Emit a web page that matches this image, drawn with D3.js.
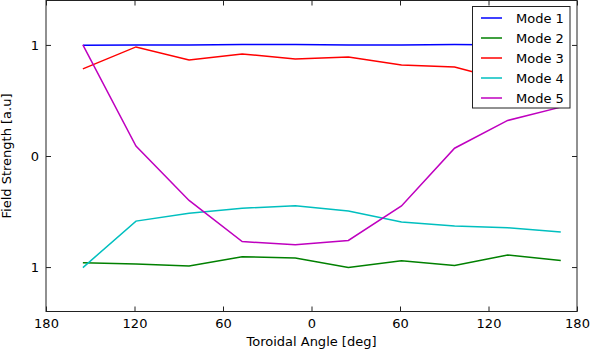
<!DOCTYPE html>
<html>
<head>
<meta charset="utf-8">
<script src="https://cdn.jsdelivr.net/npm/d3@7"></script>
<style>
  body { margin: 0; background: #fff; }
  text { font-family: "DejaVu Sans", sans-serif; }
</style>
</head>
<body>
<div id="chart"></div>
<script>
"use strict";
// toroidal angles of the probes, deg
const angles = [-155, -119, -83, -47, -11, 25, 61, 97, 133, 169];
const modeNames = ["Mode 1", "Mode 2", "Mode 3", "Mode 4", "Mode 5"];
const mode1 = [0.997, 1.0, 1.0, 1.003, 1.003, 1.0, 1.0, 1.003, 1.0, 1.0];
const mode2 = [-0.961, -0.973, -0.991, -0.907, -0.919, -1.003, -0.943, -0.985, -0.892, -0.94];
const mode3 = [0.784, 0.982, 0.865, 0.919, 0.874, 0.892, 0.82, 0.802, 0.676, 0.595];
const mode4 = [-1.005, -0.586, -0.516, -0.471, -0.447, -0.495, -0.595, -0.631, -0.646, -0.685];
const mode5 = [1.0, 0.09, -0.4, -0.77, -0.8, -0.76, -0.45, 0.07, 0.32, 0.44];
const xTicks = [-180, -120, -60, 0, 60, 120, 180];
const yTicks = [-1, 0, 1];
const colors = ["#0000ff", "#008000", "#ff0000", "#00bfbf", "#bf00bf"];

function drawChart() {
    const W = 591, H = 351;
    const left = 46, right = 577, top = 0.5, bottom = 311.5;
    const svg = d3.select("#chart").append("svg")
        .attr("width", W)
        .attr("height", H);

    const x = d3.scaleLinear().domain([-180, 180]).range([left, right]);
    const y = d3.scaleLinear().domain([-1.4, 1.4]).range([bottom, top]);

    const series = [mode1, mode2, mode3, mode4, mode5];
    const line = d3.line()
        .x((d, i) => x(angles[i]))
        .y(d => y(d));

    svg.selectAll("path.mode")
        .data(series)
        .enter()
        .append("path")
        .attr("class", "mode")
        .attr("d", line)
        .attr("fill", "none")
        .attr("stroke", (d, i) => colors[i])
        .attr("stroke-width", 1.5);

    // axes, ticks pointing inward on all four sides
    const fmt = d => String(Math.abs(d));
    const axes = [
        [d3.axisBottom(x).tickValues(xTicks).tickFormat(fmt), `translate(0,${bottom})`],
        [d3.axisTop(x).tickValues(xTicks).tickFormat(""), `translate(0,${top})`],
        [d3.axisLeft(y).tickValues(yTicks).tickFormat(fmt), `translate(${left},0)`],
        [d3.axisRight(y).tickValues(yTicks).tickFormat(""), `translate(${right},0)`]
    ];
    axes.forEach(([ax, tr]) => {
        const g = svg.append("g")
            .attr("transform", tr)
            .call(ax.tickSize(-5).tickPadding(7));
        g.select(".domain").remove();
        g.selectAll("line").attr("stroke", "#222");
        g.selectAll("text")
            .attr("font-size", 13)
            .attr("fill", "#000")
            .style("font-family", "DejaVu Sans, sans-serif");
    });

    svg.append("rect")
        .attr("x", left)
        .attr("y", top)
        .attr("width", right - left)
        .attr("height", bottom - top)
        .attr("fill", "none")
        .attr("stroke", "#222")
        .attr("stroke-width", 1);

    svg.append("text")
        .attr("x", (left + right) / 2)
        .attr("y", 346)
        .attr("text-anchor", "middle")
        .attr("font-size", 13)
        .text("Toroidal Angle [deg]");

    svg.append("text")
        .attr("transform", `translate(11,${(top + bottom) / 2}) rotate(-90)`)
        .attr("text-anchor", "middle")
        .attr("font-size", 13)
        .text("Field Strength [a.u]");

    // legend
    const lg = svg.append("g");
    lg.append("rect")
        .attr("x", 472.5)
        .attr("y", 6.5)
        .attr("width", 97.5)
        .attr("height", 101.5)
        .attr("fill", "#fff")
        .attr("stroke", "#222");
    const items = lg.selectAll("g.item")
        .data(modeNames)
        .enter()
        .append("g")
        .attr("transform", (d, i) => `translate(0,${18 + i * 20})`);
    items.append("line")
        .attr("x1", 481)
        .attr("x2", 502)
        .attr("stroke", (d, i) => colors[i])
        .attr("stroke-width", 1.5);
    items.append("text")
        .attr("x", 516)
        .attr("dy", "0.35em")
        .attr("font-size", 13)
        .text(d => d);
}

document.addEventListener("DOMContentLoaded", () => {
    drawChart();
});
</script>
</body>
</html>
